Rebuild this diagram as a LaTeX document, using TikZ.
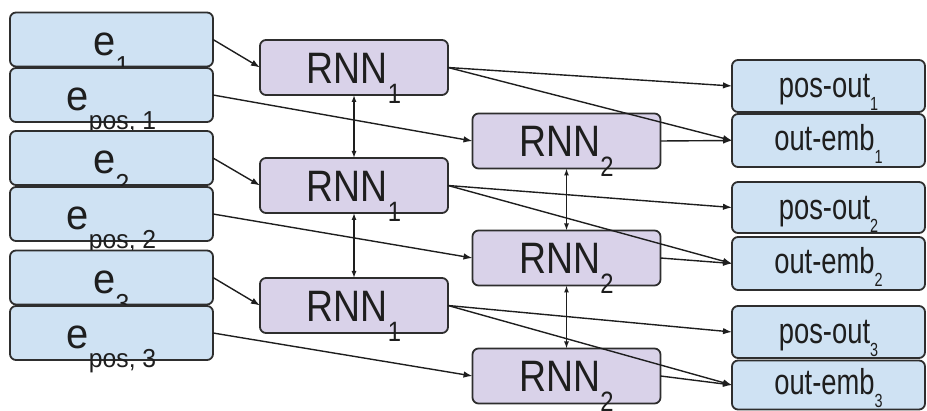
\documentclass[tikz,border=0pt]{standalone}
\usepackage{fontspec}
\setmainfont{Liberation Sans}
\usetikzlibrary{arrows.meta}
\definecolor{boxblue}{HTML}{CFE2F3}
\definecolor{boxpurple}{HTML}{D9D2E9}
\definecolor{edgegray}{HTML}{2E2E2E}
\definecolor{ink}{HTML}{1E1E1E}
\newcommand{\lowsub}[3]{\raisebox{-#1}[0pt][0pt]{\fontsize{#2}{#2}\selectfont #3}}
\newcommand{\rnnlabel}[1]{\scalebox{0.85}[1]{\fontsize{44}{44}\selectfont RNN\lowsub{20pt}{28}{#1}}}
\newcommand{\elabel}[1]{\scalebox{0.95}[1]{\fontsize{42}{42}\selectfont e\lowsub{19pt}{26}{#1}}}
\newcommand{\outlabel}[2]{\scalebox{0.76}[1]{\fontsize{36}{36}\selectfont #1\lowsub{13pt}{19}{#2}}}
\tikzset{
  box/.style={draw=edgegray, line width=1.8pt, rounded corners=6pt, inner sep=0pt, outer sep=0pt, text=ink, text depth=0pt},
  inbox/.style={box, fill=boxblue, minimum width=203pt, minimum height=54pt, text height=32pt},
  rnnbox/.style={box, fill=boxpurple, minimum width=188pt, minimum height=55pt, text height=32pt},
  posbox/.style={box, fill=boxblue, minimum width=193pt, text height=24pt},
  embbox/.style={box, fill=boxblue, minimum width=193pt, text height=20pt},
  conn/.style={draw=ink, line width=1.4pt, -{Latex[length=9pt,width=6.5pt]}},
  biconn/.style={draw=ink, line width=1.3pt, {Latex[length=7pt,width=5pt]}-{Latex[length=7pt,width=5pt]}},
}
\begin{document}
\begin{tikzpicture}[x=1pt,y=-1pt]
\useasboundingbox (0,0) rectangle (927,411);
% input boxes
\node[inbox] (e1)  at (111.5,39.5) {\elabel{1}};
\node[inbox] (ep1) at (111.5,95)   {\elabel{pos, 1}};
\node[inbox] (e2)  at (111.5,158)  {\elabel{2}};
\node[inbox] (ep2) at (111.5,214)  {\elabel{pos, 2}};
\node[inbox] (e3)  at (111.5,277.5){\elabel{3}};
\node[inbox] (ep3) at (111.5,333)  {\elabel{pos, 3}};
% RNN boxes
\node[rnnbox] (r1a) at (354,67.5)  {\rnnlabel{1}};
\node[rnnbox] (r1b) at (354,185.5) {\rnnlabel{1}};
\node[rnnbox] (r1c) at (354,305.5) {\rnnlabel{1}};
\node[rnnbox] (r2a) at (566.5,141) {\rnnlabel{2}};
\node[rnnbox] (r2b) at (566.5,258) {\rnnlabel{2}};
\node[rnnbox] (r2c) at (566.5,376) {\rnnlabel{2}};
% output boxes
\node[posbox, minimum height=52pt] (po1) at (828.5,86)    {\outlabel{pos-out}{1}};
\node[embbox, minimum height=53pt] (oe1) at (828.5,140.5) {\outlabel{out-emb}{1}};
\node[posbox, minimum height=51pt] (po2) at (828.5,207.5) {\outlabel{pos-out}{2}};
\node[embbox, minimum height=53pt] (oe2) at (828.5,263.5) {\outlabel{out-emb}{2}};
\node[posbox, minimum height=52pt] (po3) at (828.5,332)   {\outlabel{pos-out}{3}};
\node[embbox, minimum height=49pt] (oe3) at (828.5,385)   {\outlabel{out-emb}{3}};
% connectors
\draw[conn] (e1.east) -- (r1a.west);
\draw[conn] (e2.east) -- (r1b.west);
\draw[conn] (e3.east) -- (r1c.west);
\draw[conn] (ep1.east) -- (r2a.west);
\draw[conn] (ep2.east) -- (r2b.west);
\draw[conn] (ep3.east) -- (r2c.west);
\draw[biconn] (r1a) -- (r1b);
\draw[biconn] (r1b) -- (r1c);
\draw[biconn] (r2a) -- (r2b);
\draw[biconn] (r2b) -- (r2c);
\draw[conn] (r1a.east) -- (po1.west);
\draw[conn] (r1a.east) -- (oe1.west);
\draw[conn] (r2a.east) -- (oe1.west);
\draw[conn] (r1b.east) -- (po2.west);
\draw[conn] (r1b.east) -- (oe2.west);
\draw[conn] (r2b.east) -- (oe2.west);
\draw[conn] (r1c.east) -- (po3.west);
\draw[conn] (r1c.east) -- (oe3.west);
\draw[conn] (r2c.east) -- (oe3.west);
\end{tikzpicture}
\end{document}
